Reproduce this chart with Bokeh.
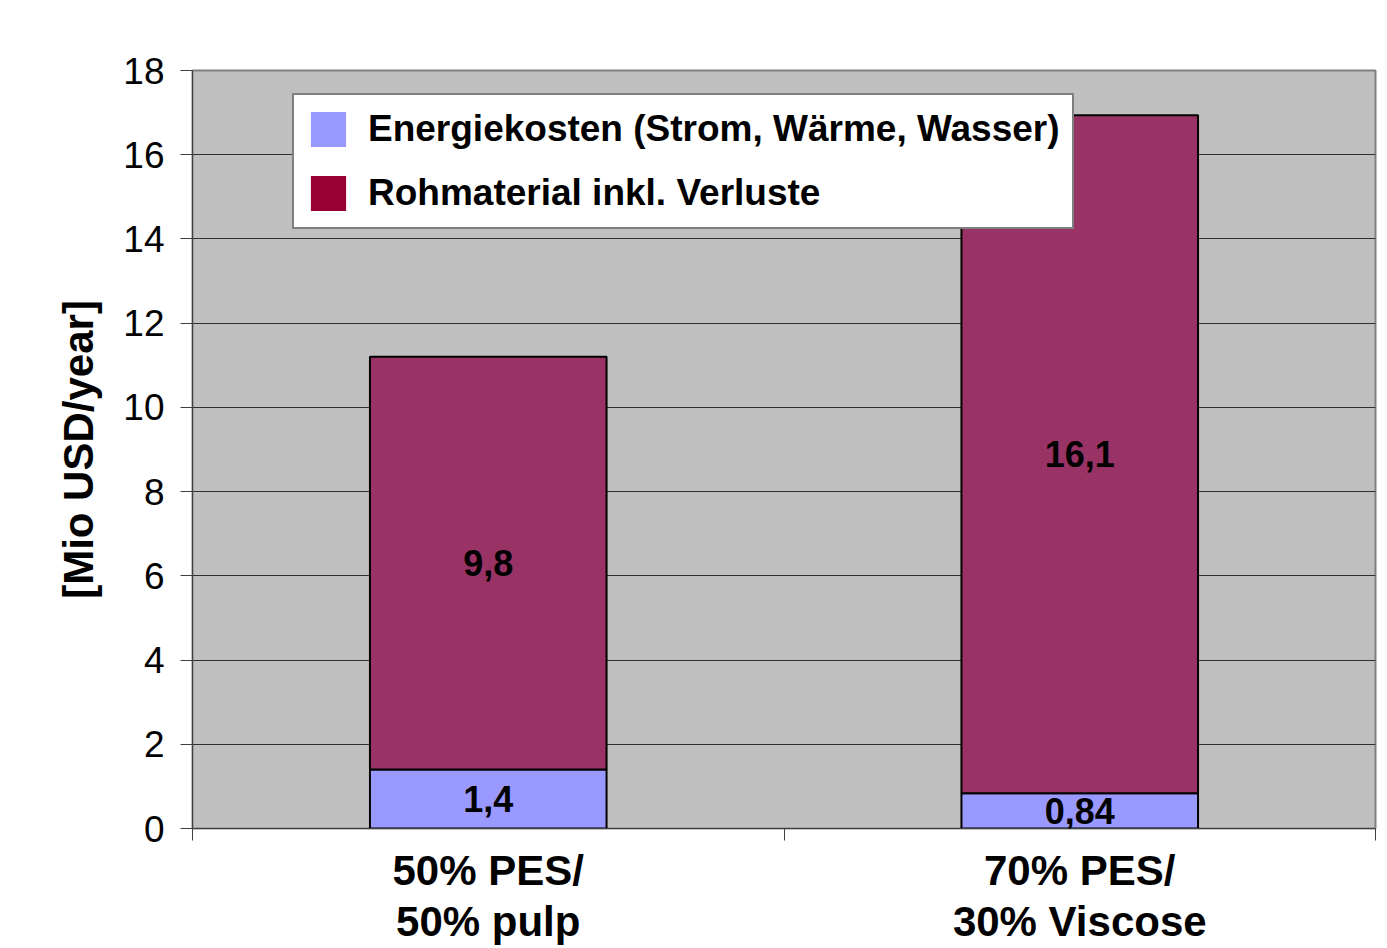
from bokeh.plotting import figure
from bokeh.models import (Range1d, FixedTicker, ColumnDataSource, Legend, LegendItem, LabelSet)
from bokeh.core.properties import value
from bokeh.embed import file_html
from bokeh.resources import INLINE

# ---- data ----
categories = ["50% PES/\n50% pulp", "70% PES/\n30% Viscose"]
series_names = ["Energiekosten (Strom, Wärme, Wasser)", "Rohmaterial inkl. Verluste"]
energie = [1.4, 0.84]
rohmaterial = [9.8, 16.1]
y_ticks = [0, 2, 4, 6, 8, 10, 12, 14, 16, 18]
y_label = "[Mio USD/year]"

FONT = "Liberation Sans"
bar_colors = ["#9999FF", "#993366"]
legend_colors = ["#9999FF", "#990033"]

xpos = [i + 0.5 for i in range(len(categories))]

W, H = 1383, 948
p = figure(width=W, height=H, output_backend="svg", toolbar_location=None,
           x_range=Range1d(0, len(categories)), y_range=Range1d(0, 18),
           min_border_left=192, min_border_right=8, min_border_top=70, min_border_bottom=120)
p.background_fill_color = "#C0C0C0"
p.border_fill_color = "white"
p.outline_line_color = "#808080"
p.outline_line_width = 2

src = ColumnDataSource(dict(x=xpos, energie=energie, roh=rohmaterial))
p.vbar_stack(["energie", "roh"], x="x", width=0.4, source=src,
             fill_color=bar_colors, line_color="black", line_width=2)

# value labels in the middle of each segment
lab_x, lab_y, lab_t = [], [], []
for i in range(len(categories)):
    lab_x += [xpos[i], xpos[i]]
    lab_y += [energie[i] / 2, energie[i] + rohmaterial[i] / 2]
    lab_t += [str(energie[i]).replace(".", ","), str(rohmaterial[i]).replace(".", ",")]
lsrc = ColumnDataSource(dict(x=lab_x, y=lab_y, t=lab_t))
p.add_layout(LabelSet(x="x", y="y", text="t", source=lsrc, text_align="center",
                      text_baseline="middle", text_font=value(FONT), text_font_size=value("36px"),
                      text_font_style=value("bold"), text_color="black"))

# axes
p.yaxis.ticker = FixedTicker(ticks=y_ticks)
p.ygrid.ticker = FixedTicker(ticks=y_ticks)
p.ygrid.grid_line_color = "#303030"
p.ygrid.grid_line_width = 1
p.xgrid.grid_line_color = None
p.yaxis.major_label_text_font = FONT
p.yaxis.major_label_text_font_size = "37px"
p.yaxis.major_label_text_color = "black"
p.yaxis.major_tick_out = 12
p.yaxis.major_tick_in = 0
p.yaxis.minor_tick_line_color = None
p.yaxis.major_label_standoff = 16
p.yaxis.axis_line_color = "#404040"
p.yaxis.major_tick_line_color = "#404040"
p.yaxis.axis_label = y_label
p.yaxis.axis_label_text_font = FONT
p.yaxis.axis_label_text_font_size = "42px"
p.yaxis.axis_label_text_font_style = "bold"
p.yaxis.axis_label_text_color = "black"
p.yaxis.axis_label_standoff = 18

p.xaxis.ticker = FixedTicker(ticks=xpos, minor_ticks=list(range(len(categories) + 1)))
p.xaxis.major_label_overrides = {xpos[i]: categories[i] for i in range(len(categories))}
p.xaxis.major_tick_out = 0
p.xaxis.major_tick_in = 0
p.xaxis.minor_tick_out = 12
p.xaxis.minor_tick_in = 0
p.xaxis.minor_tick_line_color = "#404040"
p.xaxis.axis_line_color = "#404040"
p.xaxis.major_label_text_font = FONT
p.xaxis.major_label_text_font_size = "42px"
p.xaxis.major_label_text_font_style = "bold"
p.xaxis.major_label_text_color = "black"
p.xaxis.major_label_text_line_height = 1.1
p.xaxis.major_label_standoff = 6

# legend (separate swatch renderers without outline, holding no visible data)
nan = float("nan")
items = []
for name, col in zip(series_names, legend_colors):
    r = p.quad(left=[nan], right=[nan], top=[nan], bottom=[nan], fill_color=col, line_color=None)
    items.append(LegendItem(label=name, renderers=[r]))
legend = Legend(items=items, location=(100, 599), orientation="vertical",
                glyph_width=44, glyph_height=44, label_standoff=18, padding=12, spacing=20,
                label_text_font=FONT, label_text_font_size="37px", label_text_font_style="bold",
                label_text_color="black", border_line_color="black", border_line_width=2,
                background_fill_color="white", background_fill_alpha=1.0, margin=0)
p.add_layout(legend)

open("out.html", "w").write(file_html(p, INLINE))
